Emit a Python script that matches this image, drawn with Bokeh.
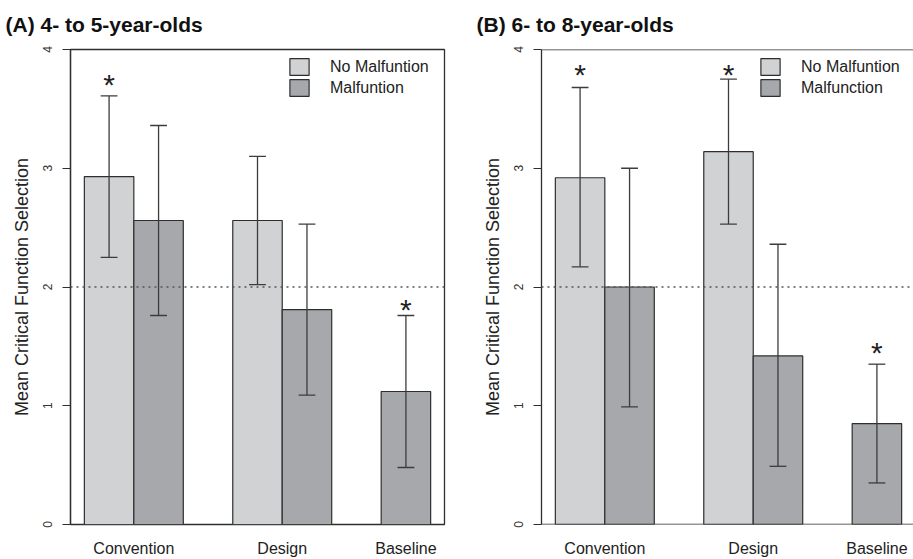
from bokeh.plotting import figure
from bokeh.models import Span, FixedTicker, Legend, LegendItem, ColumnDataSource, Range1d
from bokeh.layouts import row
from bokeh.embed import file_html
from bokeh.resources import INLINE
from bokeh.core.properties import value

categories = ["Convention", "Design", "Baseline"]

# Panel A
a_title = "(A) 4- to 5-year-olds"
a_labels = ["No Malfuntion", "Malfuntion"]
a_nomal_mean = [2.93, 2.56, None]
a_nomal_lo = [2.25, 2.02, None]
a_nomal_hi = [3.61, 3.10, None]
a_mal_mean = [2.56, 1.81, 1.12]
a_mal_lo = [1.76, 1.09, 0.48]
a_mal_hi = [3.36, 2.53, 1.76]
a_nomal_star = [3.75, None, None]
a_mal_star = [None, None, 1.85]

# Panel B
b_title = "(B) 6- to 8-year-olds"
b_labels = ["No Malfuntion", "Malfunction"]
b_nomal_mean = [2.92, 3.14, None]
b_nomal_lo = [2.17, 2.53, None]
b_nomal_hi = [3.68, 3.75, None]
b_mal_mean = [2.00, 1.42, 0.85]
b_mal_lo = [0.99, 0.49, 0.35]
b_mal_hi = [3.00, 2.36, 1.35]
b_nomal_star = [3.83, 3.83, None]
b_mal_star = [None, None, 1.49]

chance_level = 2
y_ticks = [0, 1, 2, 3, 4]

# styles
FONT = "Liberation Sans"
COL_NOMAL = "#d1d2d4"
COL_MAL = "#a7a8ab"
EDGE = "#2e2e2e"
ERR = "#3c3c3c"
H = 559
TOP = 48
FRAME_H = 477
BOTTOM = H - TOP - FRAME_H
LEFT_W, LEFT_BL, LEFT_BR = 460, 70, 16
RIGHT_W, RIGHT_BL, RIGHT_BR = 453, 81, 0
CAP = 0.17


def layout_positions(nomal, mal):
    pos = 1
    nx, mx, centers = [], [], []
    for n, m in zip(nomal, mal):
        start = pos
        if n is not None:
            nx.append(pos + 0.5)
            pos += 1
        else:
            nx.append(None)
        if m is not None:
            mx.append(pos + 0.5)
            pos += 1
        else:
            mx.append(None)
        centers.append((start + pos) / 2)
        pos += 1
    return nx, mx, centers, 1, pos - 1


def make_panel(title, labels, nm, nlo, nhi, mm, mlo, mhi, nstar, mstar,
               width, bl, br, boxed, x_end_px=None):
    nx, mx, centers, lo, hi = layout_positions(nm, mm)
    ext = 0.04 * (hi - lo)
    x0, x1 = lo - ext, hi + ext
    frame_w = width - bl - br
    if x_end_px is not None:
        x1 = x0 + frame_w / x_end_px
    p = figure(width=width, height=H, output_backend="svg", toolbar_location=None,
               x_range=Range1d(x0, x1), y_range=Range1d(0, 4), title=title,
               min_border_left=bl, min_border_right=br, min_border_top=TOP,
               min_border_bottom=BOTTOM)
    p.background_fill_color = "white"
    p.border_fill_color = "white"
    p.xgrid.visible = False
    p.ygrid.visible = False
    if boxed:
        p.outline_line_color = EDGE
        p.outline_line_width = 1.3
    else:
        p.outline_line_color = None
        for loc in (0, 4):
            p.add_layout(Span(location=loc, dimension="width", line_color=EDGE, line_width=1.3))

    p.add_layout(Span(location=chance_level, dimension="width", line_color="#555555",
                      line_width=1.3, line_dash="2 4"))

    renderers = []
    for xs, means, los, his, stars, col in ((nx, nm, nlo, nhi, nstar, COL_NOMAL),
                                            (mx, mm, mlo, mhi, mstar, COL_MAL)):
        idx = [i for i in range(len(means)) if means[i] is not None]
        src = ColumnDataSource(dict(
            x=[xs[i] for i in idx], top=[means[i] for i in idx],
            lo=[los[i] for i in idx], hi=[his[i] for i in idx],
            cl=[xs[i] - CAP for i in idx], cr=[xs[i] + CAP for i in idx]))
        r = p.vbar(x="x", width=1, top="top", bottom=0, source=src,
                   fill_color=col, line_color=EDGE, line_width=1.2)
        renderers.append(r)
        p.segment(x0="x", y0="lo", x1="x", y1="hi", source=src, line_color=ERR, line_width=1.3)
        p.segment(x0="cl", y0="lo", x1="cr", y1="lo", source=src, line_color=ERR, line_width=1.3)
        p.segment(x0="cl", y0="hi", x1="cr", y1="hi", source=src, line_color=ERR, line_width=1.3)
        sidx = [i for i in range(len(stars)) if stars[i] is not None]
        ssrc = ColumnDataSource(dict(x=[xs[i] for i in sidx], y=[stars[i] for i in sidx],
                                     t=["*"] * len(sidx)))
        p.text(x="x", y="y", text="t", source=ssrc, text_align="center",
               text_baseline="alphabetic", y_offset=5, text_font=value(FONT),
               text_font_size="30px", text_color="#222222")

    legend = Legend(items=[LegendItem(label=labels[0], renderers=[renderers[0]]),
                           LegendItem(label=labels[1], renderers=[renderers[1]])],
                    location=(217, FRAME_H - 9 - 42))
    legend.border_line_color = None
    legend.background_fill_alpha = 0
    legend.padding = 0
    legend.margin = 0
    legend.spacing = 0
    legend.glyph_width = 24
    legend.glyph_height = 21
    legend.label_height = 21
    legend.label_standoff = 19
    legend.label_text_font = FONT
    legend.label_text_font_size = "16px"
    legend.label_text_color = "#222222"
    legend.label_text_baseline = "middle"
    p.add_layout(legend)

    # axes
    p.xaxis.ticker = FixedTicker(ticks=centers)
    p.xaxis.major_label_overrides = {(int(c) if c == int(c) else c): name
                                     for c, name in zip(centers, categories)}
    p.xaxis.axis_line_color = None
    p.xaxis.major_tick_line_color = None
    p.xaxis.major_tick_in = 0
    p.xaxis.major_tick_out = 0
    p.xaxis.minor_tick_line_color = None
    p.xaxis.minor_tick_in = 0
    p.xaxis.minor_tick_out = 0
    p.xaxis.major_label_standoff = 15
    p.xaxis.major_label_text_font = FONT
    p.xaxis.major_label_text_font_size = "16px"
    p.xaxis.major_label_text_color = "#222222"

    p.yaxis.ticker = FixedTicker(ticks=y_ticks)
    p.yaxis.axis_label = "Mean Critical Function Selection"
    p.yaxis.axis_label_text_font = FONT
    p.yaxis.axis_label_text_font_size = "18px"
    p.yaxis.axis_label_text_font_style = "normal"
    p.yaxis.axis_label_text_color = "#222222"
    p.yaxis.axis_label_standoff = 8
    p.yaxis.axis_line_color = EDGE
    p.yaxis.axis_line_width = 1.3
    p.yaxis.major_tick_line_color = EDGE
    p.yaxis.major_tick_line_width = 1.2
    p.yaxis.major_tick_in = 0
    p.yaxis.major_tick_out = 8
    p.yaxis.minor_tick_line_color = None
    p.yaxis.major_label_orientation = "parallel"
    p.yaxis.major_label_standoff = 11
    p.yaxis.major_label_text_font = FONT
    p.yaxis.major_label_text_font_size = "12px"
    p.yaxis.major_label_text_color = "#333333"

    p.title.text_font = FONT
    p.title.text_font_size = "21px"
    p.title.text_font_style = "bold"
    p.title.text_color = "#111111"
    p.title.align = "left"
    p.title.vertical_align = "top"
    p.title.offset = -65
    p.title.standoff = 24
    return p, frame_w / (x1 - x0)


pa, unit_px = make_panel(a_title, a_labels, a_nomal_mean, a_nomal_lo, a_nomal_hi,
                         a_mal_mean, a_mal_lo, a_mal_hi, a_nomal_star, a_mal_star,
                         LEFT_W, LEFT_BL, LEFT_BR, True)
pb, _ = make_panel(b_title, b_labels, b_nomal_mean, b_nomal_lo, b_nomal_hi,
                   b_mal_mean, b_mal_lo, b_mal_hi, b_nomal_star, b_mal_star,
                   RIGHT_W, RIGHT_BL, RIGHT_BR, False, x_end_px=unit_px)

layout = row(pa, pb)
open("out.html", "w").write(file_html(layout, INLINE))
